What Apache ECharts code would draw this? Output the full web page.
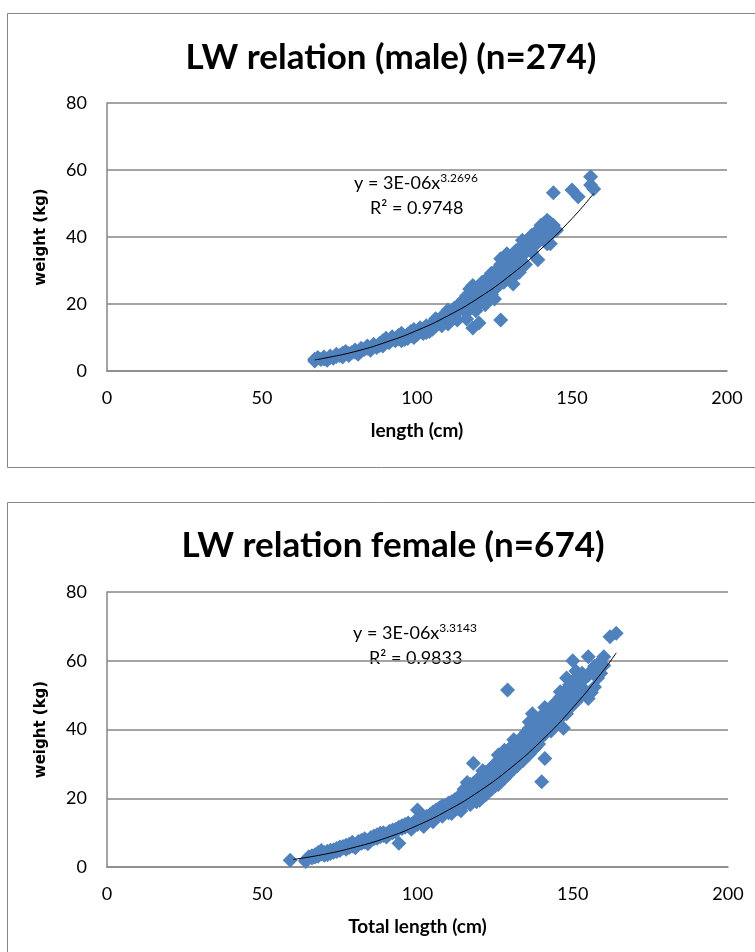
<!DOCTYPE html>
<html>
<head>
<meta charset="utf-8">
<script src="https://cdn.jsdelivr.net/npm/echarts@6/dist/echarts.min.js"></script>
<style>
html, body { margin: 0; padding: 0; background: #fff; }
#chart { width: 755px; height: 952px; }
</style>
</head>
<body>
<div id="chart"></div>
<script>
// values
var xTicks = [0, 50, 100, 150, 200];
var yTicks = [0, 20, 40, 60, 80];

var maleData = [
  [67,3.5],[67,3.0],[68,4.0],[69,3.4],[70,4.2],[70,3.6],[71,3.2],[72,4.5],[72,4.0],[73,3.8],
  [74,5.0],[74,4.3],[75,4.6],[76,5.3],[76,4.2],[77,5.8],[78,5.2],[78,4.6],[79,5.5],[80,6.3],
  [80,5.6],[81,5.0],[82,6.8],[82,6.0],[83,6.4],[84,7.5],[84,6.8],[85,6.2],[86,7.4],[86,8.0],
  [87,7.0],[88,8.3],[88,7.6],[89,9.0],[89,7.5],[90,8.8],[90,9.8],[91,8.4],[92,9.5],[92,10.2],
  [93,9.0],[94,10.6],[94,9.6],[95,11.3],[96,10.2],[96,9.4],[97,11.0],[98,11.8],[98,10.5],[99,12.4],
  [100,11.6],[100,10.8],[101,12.9],[102,12.1],[102,11.2],[103,13.5],[104,12.8],[104,11.8],[105,14.3],[106,13.4],
  [106,15.6],[107,14.6],[108,16.2],[108,15.0],[109,17.0],[110,16.0],[110,18.2],[111,17.2],[111,15.6],[112,18.7],
  [112,16.5],[113,19.4],[113,17.8],[114,20.2],[114,18.4],[115,21.3],[115,19.0],[116,22.5],[116,20.0],[116,17.5],
  [117,24.5],[117,21.4],[117,19.2],[118,22.8],[118,20.4],[118,12.8],[119,23.6],[119,21.0],[120,22.2],[120,19.8],
  [120,14.3],[121,24.0],[121,22.0],[122,25.2],[122,23.0],[123,28.0],[123,24.4],[123,21.6],[124,29.2],[124,26.0],
  [124,22.8],[125,27.4],[125,24.6],[126,30.5],[126,28.0],[126,25.2],[127,31.8],[127,29.0],[127,15.2],[128,33.0],
  [128,30.2],[128,26.5],[129,34.2],[129,31.0],[129,27.8],[130,32.5],[130,29.5],[131,35.0],[131,31.5],[131,28.0],
  [132,33.6],[132,30.4],[133,36.5],[133,32.5],[134,37.5],[134,34.5],[135,35.6],[135,38.5],[136,36.6],[136,39.0],
  [137,38.0],[137,35.5],[138,40.5],[138,37.5],[139,42.0],[139,33.2],[140,43.5],[140,40.0],[141,44.0],[141,41.5],
  [142,43.0],[142,38.0],[143,44.2],[143,40.6],[144,43.5],[144,53.2],[145,42.0],[150,54.0],[152,52.0],[156,58.0],
  [156,55.5],[157,54.3],
  [118,25.5],[121,26.5],[124,28.2],[127,33.5],[129,35.0],[132,36.0],[134,39.0],[131,26.0],[133,29.5],[135,31.8],
  [137,40.5],[139,39.0],[142,45.0],[143,38.0],[119,18.0],[122,19.8],[125,21.5],[116,15.5],[113,15.2],[110,14.0],
  [105,12.5],[108,13.5],[99,10.0],[95,9.0],[97,9.7],[103,11.5]
];

var femaleData = [
  [59,2.0],[64,2.0],[64,1.6],[65,3.0],[66,3.3],[66,2.6],[67,3.6],[67,2.9],[68,4.2],[68,3.1],
  [69,3.8],[69,4.8],[70,4.2],[70,3.4],[71,4.6],[71,3.6],[72,4.9],[72,3.9],[73,5.0],[73,4.3],
  [74,5.4],[74,4.5],[75,5.8],[75,4.8],[76,5.5],[76,6.0],[77,5.2],[77,6.3],[78,5.7],[78,6.6],
  [79,6.1],[79,7.2],[80,6.4],[80,5.6],[81,7.4],[81,6.6],[82,6.9],[82,7.8],[83,7.2],[83,8.2],
  [84,7.6],[84,6.8],[85,8.6],[85,7.8],[86,8.2],[86,9.0],[87,8.4],[87,9.4],[88,8.8],[88,9.8],
  [89,9.2],[89,10.0],[90,9.6],[90,8.7],[91,10.4],[91,9.6],[92,10.8],[92,10.0],[93,11.0],[93,10.2],
  [94,6.9],[94,11.6],[95,11.2],[95,12.0],[96,11.6],[96,12.4],[97,12.0],[97,12.8],[98,12.4],[98,11.0],
  [99,13.2],[99,12.0],[100,16.6],[100,13.5],[100,12.4],[101,14.0],[101,12.8],[102,13.4],[102,14.6],[103,13.0],
  [103,14.8],[104,15.2],[104,13.6],[105,16.0],[105,14.4],[106,16.6],[106,14.8],[107,17.2],[107,15.4],[108,17.8],
  [108,16.0],[109,18.0],[109,16.4],[110,18.6],[110,17.0],[110,15.8],[111,19.0],[111,17.4],[112,19.6],[112,18.0],
  [112,16.6],[113,20.2],[113,18.6],[113,17.0],[114,21.0],[114,19.2],[114,17.6],[115,22.6],[115,20.0],[115,18.2],
  [116,23.2],[116,21.0],[116,19.0],[117,24.0],[117,21.6],[117,19.6],[118,30.2],[118,24.4],[118,22.4],[118,20.2],
  [119,25.2],[119,23.0],[119,20.8],[120,26.0],[120,24.0],[120,21.6],[120,19.4],[121,26.8],[121,24.6],[121,22.4],
  [122,27.6],[122,25.4],[122,23.0],[122,21.0],[123,28.2],[123,26.2],[123,24.0],[124,29.0],[124,27.0],[124,24.6],
  [124,22.8],[125,30.0],[125,27.6],[125,25.4],[126,31.0],[126,28.6],[126,26.2],[126,24.0],[127,32.0],[127,29.6],
  [127,27.0],[128,34.0],[128,30.6],[128,28.0],[128,25.8],[129,51.5],[129,33.6],[129,31.4],[129,29.0],[130,34.8],
  [130,32.4],[130,30.0],[130,27.8],[131,35.6],[131,33.2],[131,30.8],[132,36.4],[132,34.0],[132,31.6],[132,29.4],
  [133,37.2],[133,35.0],[133,32.6],[134,38.0],[134,36.0],[134,33.6],[134,31.0],[135,39.2],[135,37.0],[135,34.6],
  [136,40.4],[136,38.0],[136,35.6],[136,32.8],[137,44.6],[137,41.2],[137,39.0],[137,36.4],[138,42.0],[138,40.0],
  [138,37.4],[138,34.8],[139,43.0],[139,41.0],[139,38.4],[139,35.8],[140,44.0],[140,42.0],[140,39.4],[140,24.8],
  [141,44.8],[141,42.8],[141,40.2],[141,31.6],[142,45.6],[142,43.6],[142,41.0],[143,46.4],[143,44.4],[143,42.0],
  [143,39.6],[144,47.4],[144,45.4],[144,43.0],[145,48.4],[145,46.2],[145,44.0],[145,41.6],[146,49.4],[146,47.2],
  [146,45.0],[147,50.6],[147,48.2],[147,46.0],[147,40.4],[148,55.0],[148,51.6],[148,49.2],[148,44.6],[149,53.0],
  [149,50.4],[149,47.8],[150,60.0],[150,54.0],[150,51.4],[150,48.6],[151,57.0],[151,52.8],[151,49.8],[152,55.6],
  [152,53.4],[152,50.6],[153,56.4],[153,52.2],[154,55.0],[154,51.0],[155,61.2],[155,55.8],[155,49.0],[156,57.0],
  [156,50.8],[157,58.4],[157,52.4],[158,59.0],[158,55.0],[159,56.4],[160,61.2],[160,58.6],[162,67.0],[164,68.0],
  [102,11.8],[105,13.2],[108,14.8],[111,15.6],[114,16.4],[117,18.2],[119,19.0],[121,20.4],[123,22.2],[125,23.6],
  [127,25.0],[129,26.8],[131,28.6],[133,30.4],[135,32.4],[137,34.0],[139,37.0],[141,38.6],[143,40.8],[145,43.0],
  [147,44.2],[149,46.2],[151,48.0],[153,50.0],[116,24.6],[121,28.0],[126,32.6],[131,37.0],[136,42.2],[141,46.4],
  [146,51.0],[151,55.0]
];

// power trend lines
var maleTrend = [[67,3.3],[70,3.8],[80,5.8],[90,8.6],[100,12.1],[110,16.5],[120,21.9],[130,28.5],[140,36.4],[150,45.5],[157,53.0]];
var femaleTrend = [[60,2.2],[70,3.7],[80,5.8],[90,8.5],[100,12.1],[110,16.6],[120,22.1],[130,28.8],[140,36.8],[150,46.3],[160,57.3],[164,62.3]];

var fontName = 'Lato';
var blue = '#4F81BD';
var gridGray = '#868686';

var dom = document.getElementById('chart');
var myChart = echarts.init(dom, null, {renderer: 'canvas'});

function makeX(idx, name) {
  return {
    gridIndex: idx, type: 'value', min: 0, max: 200, interval: 50,
    name: name, nameLocation: 'middle', nameGap: 50,
    nameTextStyle: {fontFamily: fontName, fontWeight: 'bold', fontSize: 19, color: '#000'},
    axisLine: {show: true, lineStyle: {color: gridGray, width: 1.5}},
    axisTick: {show: false},
    splitLine: {show: false},
    axisLabel: {fontFamily: fontName, fontSize: 18, color: '#000', margin: 18}
  };
}
function makeY(idx) {
  return {
    gridIndex: idx, type: 'value', min: 0, max: 80, interval: 20,
    name: 'weight (kg)', nameLocation: 'middle', nameGap: 58, nameRotate: 90,
    nameTextStyle: {fontFamily: 'DejaVu Sans', fontWeight: 'bold', fontSize: 15, color: '#000'},
    axisLine: {show: true, lineStyle: {color: gridGray, width: 1.5}},
    axisTick: {show: false},
    splitLine: {show: true, lineStyle: {color: gridGray, width: 1.5}},
    axisLabel: {fontFamily: fontName, fontSize: 18, color: '#000', margin: 20}
  };
}

var eqRich = {
  t: {fontFamily: fontName, fontSize: 18, color: '#000'},
  s: {fontFamily: fontName, fontSize: 12, color: '#000', padding: [0, 0, 10, 0]}
};

option = {
  animation: false,
  title: [
    {text: 'LW relation (male) (n=274)', left: 386, top: 35, textAlign: 'center',
     textStyle: {fontFamily: fontName, fontWeight: 'bold', fontSize: 35, color: '#000'}},
    {text: 'LW relation female (n=674)', left: 388, top: 523, textAlign: 'center',
     textStyle: {fontFamily: fontName, fontWeight: 'bold', fontSize: 35, color: '#000'}}
  ],
  graphic: [
    {type: 'rect', shape: {x: 7.5, y: 13.5, width: 760, height: 454}, style: {fill: null, stroke: gridGray, lineWidth: 1}, z: -1},
    {type: 'rect', shape: {x: 7.5, y: 502.5, width: 760, height: 470}, style: {fill: null, stroke: gridGray, lineWidth: 1}, z: -1},
    {type: 'text', left: 354, top: 172, style: {text: '{t|y = 3E-06x}{s|3.2696}', rich: eqRich}},
    {type: 'text', left: 370, top: 199, style: {text: '{t|R² = 0.9748}', rich: eqRich}},
    {type: 'text', left: 353, top: 622, style: {text: '{t|y = 3E-06x}{s|3.3143}', rich: eqRich}},
    {type: 'text', left: 369, top: 649, style: {text: '{t|R² = 0.9833}', rich: eqRich}}
  ],
  grid: [
    {left: 107, right: 28, top: 103, height: 268},
    {left: 107, right: 27, top: 592, height: 275}
  ],
  xAxis: [makeX(0, 'length (cm)'), makeX(1, 'Total length (cm)')],
  yAxis: [makeY(0), makeY(1)],
  series: [
    {type: 'scatter', xAxisIndex: 0, yAxisIndex: 0, data: maleData,
     symbol: 'diamond', symbolSize: 15, itemStyle: {color: blue, opacity: 1}},
    {type: 'line', xAxisIndex: 0, yAxisIndex: 0, data: maleTrend, smooth: true,
     showSymbol: false, lineStyle: {color: '#000', width: 1}, z: 5},
    {type: 'scatter', xAxisIndex: 1, yAxisIndex: 1, data: femaleData,
     symbol: 'diamond', symbolSize: 15, itemStyle: {color: blue, opacity: 1}},
    {type: 'line', xAxisIndex: 1, yAxisIndex: 1, data: femaleTrend, smooth: true,
     showSymbol: false, lineStyle: {color: '#000', width: 1}, z: 5}
  ]
};

if (option && typeof option === "object") {
  myChart.setOption(option, true);
}
</script>
</body>
</html>
